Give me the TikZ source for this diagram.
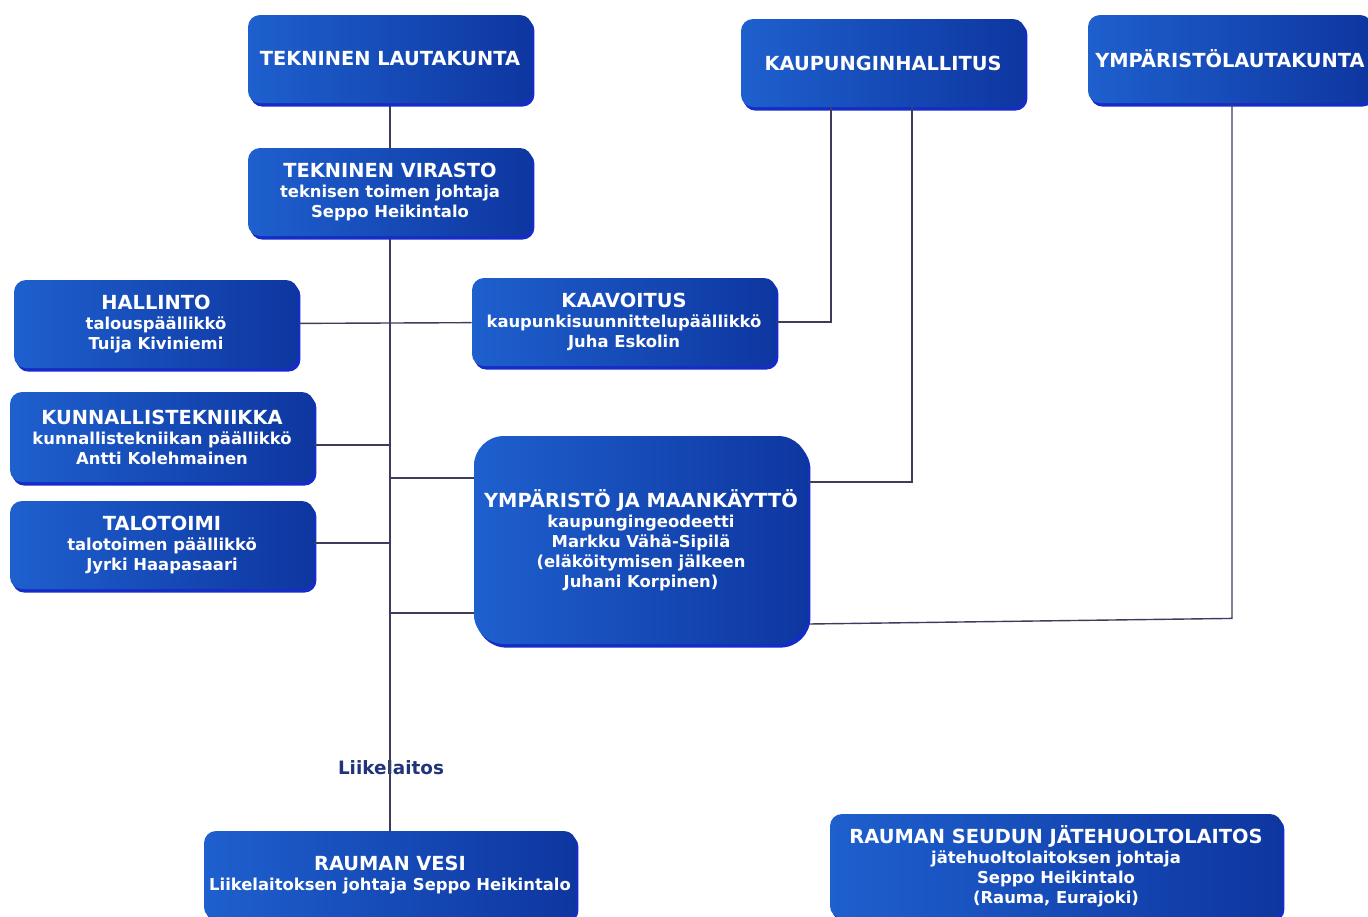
\documentclass[tikz,border=0pt]{standalone}
\usepackage{fontspec}
\setmainfont{DejaVu Sans}
\usetikzlibrary{shadows,backgrounds}

\definecolor{boxtop}{RGB}{30,96,206}
\definecolor{boxmid}{RGB}{22,78,188}
\definecolor{boxbot}{RGB}{14,54,160}
\definecolor{boxedge}{RGB}{22,44,200}
\definecolor{linkline}{RGB}{62,60,92}
\definecolor{labelblue}{RGB}{32,52,122}
\newcommand{\ttl}[1]{{\fontsize{9.7}{10}\selectfont #1}}

\begin{document}
\begin{tikzpicture}[x=0.5pt,y=-0.5pt,
  org box/.style={rounded corners=6pt,left color=boxtop,middle color=boxmid,right color=boxbot,
    text=white,align=center,font=\fontsize{8.2}{10}\selectfont\bfseries,
    minimum width=142pt,minimum height=44pt,inner sep=1pt,
    drop shadow={shadow xshift=1.2pt,shadow yshift=-1.8pt,fill=boxedge,opacity=1}},
  link/.style={draw=linkline,line width=0.7pt}]

  \useasboundingbox (0,0) rectangle (1368,916);

  \node[org box] (tl) at (390,59) {\ttl{TEKNINEN LAUTAKUNTA}};
  \node[org box] (kh) at (883,63) {\ttl{KAUPUNGINHALLITUS}};
  \node[org box] (yl) at (1230,59) {\ttl{YMPÄRISTÖLAUTAKUNTA}};
  \node[org box] (tv) at (390,192) {\ttl{TEKNINEN VIRASTO}\\teknisen toimen johtaja\\Seppo Heikintalo};
  \node[org box] (hal) at (156,324) {\ttl{HALLINTO}\\talouspäällikkö\\Tuija Kiviniemi};
  \node[org box,minimum width=152pt] (kaa) at (624,322) {\ttl{KAAVOITUS}\\kaupunkisuunnittelupäällikkö\\Juha Eskolin};
  \node[org box,minimum width=152pt,minimum height=45pt] (kun) at (162,437) {\ttl{KUNNALLISTEKNIIKKA}\\kunnallistekniikan päällikkö\\Antti Kolehmainen};
  \node[org box,minimum width=152pt] (talo) at (162,545) {\ttl{TALOTOIMI}\\talotoimen päällikkö\\Jyrki Haapasaari};
  \node[org box,rounded corners=15pt,minimum width=167pt,minimum height=104pt] (ymp) at (641,540)
    {\ttl{YMPÄRISTÖ JA MAANKÄYTTÖ}\\kaupungingeodeetti\\Markku Vähä-Sipilä\\(eläköitymisen jälkeen\\Juhani Korpinen)};
  \node[org box,minimum width=186pt] (vesi) at (390,875) {\ttl{RAUMAN VESI}\\Liikelaitoksen johtaja Seppo Heikintalo};
  \node[org box,minimum width=226pt,minimum height=52pt] (jate) at (1056,866)
    {\ttl{RAUMAN SEUDUN JÄTEHUOLTOLAITOS}\\jätehuoltolaitoksen johtaja\\Seppo Heikintalo\\(Rauma, Eurajoki)};

  \coordinate (j1) at (390,445);
  \coordinate (j2) at (390,478);
  \coordinate (j3) at (390,543);
  \coordinate (j4) at (390,613);

  \begin{scope}[on background layer]
    \node[text=labelblue,font=\fontsize{9.2}{10}\selectfont\bfseries] (liike) at (391,768) {Liikelaitos};
    \draw[link] (tl) -- (vesi);
  \end{scope}

  \draw[link] (hal) -- (kaa);
  \draw[link] (kun.east |- j1) -- (j1);
  \draw[link] (j2) -- (j2 -| ymp.west);
  \draw[link] (talo.east |- j3) -- (j3);
  \draw[link] (j4) -- (j4 -| ymp.west);

  \draw[link] (kh.south) ++(-52,0) |- (kaa.east);
  \draw[link] (kh.south) ++(29,0) |- ([yshift=29pt]ymp.east);
  \draw[link] (yl.south) ++(2,0) -- ++(0,515) -- ([yshift=-42pt]ymp.east);
\end{tikzpicture}
\end{document}
